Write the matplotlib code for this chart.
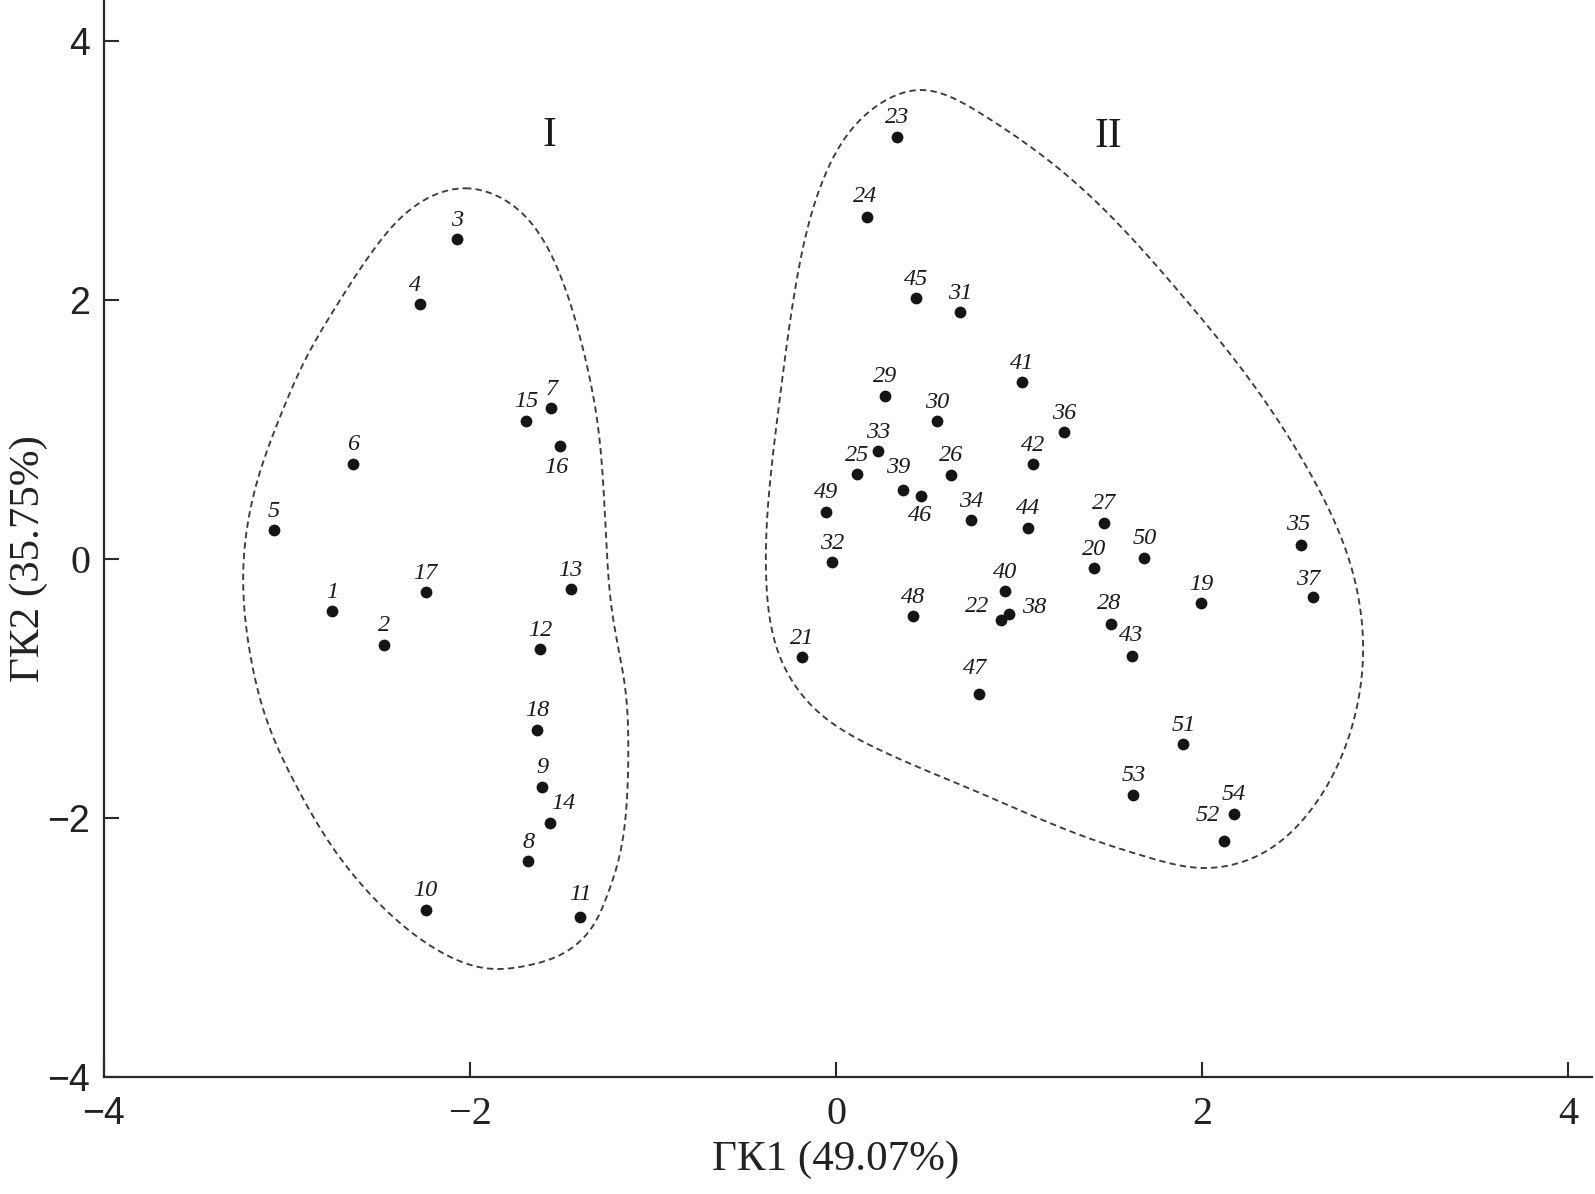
import numpy as np
import matplotlib
matplotlib.use("Agg")
import matplotlib.pyplot as plt

# ---------------- data ----------------
ids = list(range(1, 55))
pc1 = [-2.752, -2.470, -2.073, -2.272, -3.073, -2.639, -1.556, -1.681, -1.605, -2.242,
       -1.399, -1.616, -1.450, -1.561, -1.692, -1.508, -2.242, -1.632,
       1.995, 1.412, -0.186, 0.902, 0.332, 0.171, 0.113, 0.628, 1.464, 1.501, 0.266, 0.550,
       0.678, -0.022, 0.228, 0.738, 2.541, 1.248, 2.608, 0.944, 0.364, 0.923,
       1.018, 1.078, 1.616, 1.047, 0.437, 0.466, 0.783, 0.421, -0.056, 1.685,
       1.898, 2.122, 1.625, 2.175]
pc2 = [-0.402, -0.662, 2.469, 1.969, 0.224, 0.734, 1.164, -2.332, -1.758, -2.710,
       -2.762, -0.697, -0.234, -2.041, 1.066, 0.873, -0.255, -1.320,
       -0.342, -0.072, -0.759, -0.471, 3.261, 2.638, 0.656, 0.649, 0.280, -0.502, 1.259, 1.063,
       1.905, -0.026, 0.834, 0.301, 0.108, 0.978, -0.296, -0.425, 0.533, -0.247,
       1.367, 0.731, -0.749, 0.242, 2.013, 0.486, -1.042, -0.443, 0.365, 0.010,
       -1.431, -2.175, -1.822, -1.967]

group_names = ["I", "II"]
group_label_x = [-1.568, 1.486]
group_label_y = [3.27, 3.26]

# outline control points of the two groups (clockwise)
hull1_x = [-2.027, -1.78, -1.490, -1.381, -1.308, -1.253, -1.217, -1.153, -1.135,
           -1.144, -1.180, -1.253, -1.344, -1.490, -1.672, -1.909, -2.146, -2.401, -2.583,
           -2.728, -2.947, -3.111, -3.202, -3.239, -3.166, -3.038, -2.892, -2.710,
           -2.528, -2.27]
hull1_y = [2.863, 2.745, 2.129, 1.614, 1.099, 0.069, -0.471, -0.986, -1.500,
           -1.886, -2.273, -2.608, -2.865, -3.045, -3.135, -3.161, -3.045, -2.788, -2.530,
           -2.273, -1.758, -1.243, -0.728, -0.085, 0.585, 1.099, 1.562, 2.0,
           2.386, 2.755]
hull2_x = [0.459, 0.787, 1.333, 1.880, 2.262, 2.590, 2.809, 2.880, 2.825, 2.607, 2.333,
           2.005, 1.699, 1.333, 0.787, 0.240, -0.126, -0.306, -0.38, -0.36, -0.306,
           -0.215, -0.071, 0.148]
hull2_y = [3.622, 3.444, 2.875, 2.054, 1.382, 0.664, -0.031, -0.650, -1.266, -1.915, -2.270,
           -2.386, -2.301, -2.131, -1.807, -1.475, -1.143, -0.757, -0.2, 0.6, 1.253,
           2.154, 2.927, 3.413]

xlabel = "ΓК1 (49.07%)"
ylabel = "ΓК2 (35.75%)"
xticks = [-4, -2, 0, 2, 4]
yticks = [-4, -2, 0, 2, 4]

# label offsets in pixels (dx, dy with dy positive downward)
default_off = (0, -19)
label_off = {16: (-4, 22), 14: (13, -20), 46: (-1, 19), 22: (-24, -14), 38: (25, -7),
             52: (-17, -25), 47: (-4, -25), 39: (-4, -23), 4: (-5, -19), 37: (-5, -18),
             24: (-2, -21), 35: (-3, -21), 43: (-1, -21), 28: (-2, -21), 11: (0, -22)}


def periodic_spline(xs, ys, sx=183.0, sy=129.5, n=25):
    """Closed C2 cubic spline through the points (chord-length parameter, pixel scale)."""
    P = np.column_stack([np.asarray(xs) * sx, np.asarray(ys) * sy])
    N = len(P)
    d = np.roll(P, -1, axis=0) - P
    h = np.hypot(d[:, 0], d[:, 1])
    A = np.zeros((N, N))
    R = np.zeros((N, 2))
    for i in range(N):
        hp = h[i - 1]
        hi = h[i]
        A[i, (i - 1) % N] += hp
        A[i, i] += 2 * (hp + hi)
        A[i, (i + 1) % N] += hi
        R[i] = 6 * ((P[(i + 1) % N] - P[i]) / hi - (P[i] - P[i - 1]) / hp)
    M = np.linalg.solve(A, R)
    out = []
    for i in range(N):
        j = (i + 1) % N
        hi = h[i]
        t = np.linspace(0, hi, n, endpoint=False)[:, None]
        a = hi - t
        seg = (M[i] * a ** 3 / (6 * hi) + M[j] * t ** 3 / (6 * hi)
               + (P[i] / hi - M[i] * hi / 6) * a + (P[j] / hi - M[j] * hi / 6) * t)
        out.append(seg)
    out = np.vstack(out)
    out = np.vstack([out, out[:1]])
    return out[:, 0] / sx, out[:, 1] / sy


serif = ["Liberation Serif", "DejaVu Serif"]
sans = ["Liberation Sans", "DejaVu Sans"]
plt.rcParams["font.family"] = serif

W, H = 1595, 1194
fig = plt.figure(figsize=(W / 100, H / 100), dpi=100)
ax = fig.add_axes([104 / W, 117 / H, 1488 / W, 1077 / H])
ax.set_xlim(-4, 4.131)
ax.set_ylim(-4, 4.317)

for s in ["top", "right"]:
    ax.spines[s].set_visible(False)
for s in ["left", "bottom"]:
    ax.spines[s].set_linewidth(1.6)
    ax.spines[s].set_color("#2a2a2a")

ax.set_xticks(xticks)
ax.set_yticks(yticks)
ax.tick_params(direction="in", length=10.8, width=1.5, color="#2a2a2a",
               labelsize=29, labelcolor="#222222")
ax.tick_params(axis="x", pad=14)
ax.tick_params(axis="y", pad=10)

# outlines
for hx, hy in [(hull1_x, hull1_y), (hull2_x, hull2_y)]:
    cx, cy = periodic_spline(hx, hy)
    ax.plot(cx, cy, linestyle=(0, (3.4, 2.2)), color="#3c3c3c", lw=1.35)

ax.scatter(pc1, pc2, s=72, color="#151515", zorder=3, linewidths=0)

for i, x, y in zip(ids, pc1, pc2):
    dx, dy = label_off.get(i, default_off)
    ax.annotate(str(i), (x, y), xytext=(dx, -dy), textcoords="offset pixels",
                ha="center", va="center", fontsize=17.5, fontstyle="italic",
                family=serif, color="#1a1a1a")

for name, gx, gy in zip(group_names, group_label_x, group_label_y):
    ax.text(gx, gy, name, ha="center", va="center", fontsize=30, family=serif,
            color="#1a1a1a")

ax.set_xlabel(xlabel, fontsize=31, color="#222222", ha="center", va="center")
ax.set_ylabel(ylabel, fontsize=31, color="#222222", ha="center", va="center")
ax.xaxis.set_label_coords(4 / 8.131, -0.077)
ax.yaxis.set_label_coords(-0.0507, 4 / 8.317)

fig.canvas.draw()
for lab in ax.get_yticklabels():
    if lab.get_text() not in ("0",):
        lab.set_family(sans)
        lab.set_fontsize(27)
for lab in ax.get_xticklabels():
    if lab.get_text().endswith("4") and lab.get_text() != "4":
        lab.set_family(sans)
        lab.set_fontsize(27)

fig.savefig("out.png", dpi=100, facecolor="white")
